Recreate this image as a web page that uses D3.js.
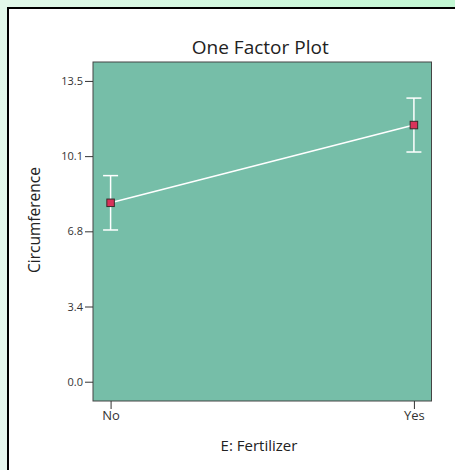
<!DOCTYPE html>
<html><head><meta charset="utf-8">
<script src="https://cdn.jsdelivr.net/npm/d3@7"></script>
<style>html,body{margin:0;padding:0;overflow:hidden;}svg{display:block;}</style>
</head><body>
<script>
const categories = ["No", "Yes"];
const means = [8.03, 11.52];
const upper = [9.25, 12.73];
const lower = [6.81, 10.31];
const yTicks = [0, 3.375, 6.75, 10.125, 13.5];
const yTickLabels = ["0.0", "3.4", "6.8", "10.1", "13.5"];

const FONT = "'Open Sans', 'Noto Sans', sans-serif";
const W = 455, H = 470;
const svg = d3.select("body").append("svg").attr("width", W).attr("height", H);
const defs = svg.append("defs");
const g = defs.append("linearGradient").attr("id","bg").attr("x1","0").attr("y1","1").attr("x2","1").attr("y2","0");
g.append("stop").attr("offset","0").attr("stop-color","#e6f7ee");
g.append("stop").attr("offset","0.5").attr("stop-color","#e2f8ea");
g.append("stop").attr("offset","1").attr("stop-color","#c2f7d3");
svg.append("rect").attr("width",W).attr("height",H).attr("fill","url(#bg)");
svg.append("rect").attr("x",8).attr("y",8).attr("width",W).attr("height",H).attr("fill","#fff").attr("stroke","#000").attr("stroke-width",2);

const L = 93, R = 431.5, T = 62, B = 401;
const y = d3.scaleLinear().domain([-0.866, 14.35]).range([B, T]);
const x = d3.scalePoint().domain(categories).range([L, R]).padding(0.058);

svg.append("rect").attr("x",L).attr("y",T).attr("width",R-L).attr("height",B-T)
  .attr("fill","#76bea8").attr("stroke","#444").attr("stroke-width",1);

const yAxis = d3.axisLeft(y).tickValues(yTicks).tickFormat((d,i)=>yTickLabels[i]).tickSize(8).tickPadding(2);
const ya = svg.append("g").attr("transform",`translate(${L},0)`).call(yAxis);
ya.select(".domain").remove();
ya.selectAll("line").attr("stroke","#333");
ya.selectAll("text").attr("font-family",FONT).attr("font-size",11).attr("fill","#333");

const xAxis = d3.axisBottom(x).tickSize(8).tickPadding(2);
const xa = svg.append("g").attr("transform",`translate(0,${B})`).call(xAxis);
xa.select(".domain").remove();
xa.selectAll("line").attr("stroke","#333");
xa.selectAll("text").attr("font-family",FONT).attr("font-size",13).attr("fill","#333");

const line = d3.line().x((d,i)=>x(categories[i])).y(d=>y(d));
svg.append("path").attr("d", line(means)).attr("fill","none").attr("stroke","#fff").attr("stroke-width",1.5);

categories.forEach((c,i)=>{
  const cx = x(c);
  svg.append("line").attr("x1",cx).attr("x2",cx).attr("y1",y(lower[i])).attr("y2",y(upper[i])).attr("stroke","#fff").attr("stroke-width",1.5);
  [lower[i], upper[i]].forEach(v=>{
    svg.append("line").attr("x1",cx-7.5).attr("x2",cx+7.5).attr("y1",y(v)).attr("y2",y(v)).attr("stroke","#fff").attr("stroke-width",1.5);
  });
  svg.append("rect").attr("x",cx-3.75).attr("y",y(means[i])-3.75).attr("width",7.5).attr("height",7.5)
    .attr("fill","#d9325a").attr("stroke","#3a2a2a").attr("stroke-width",1);
});

svg.append("text").attr("x",(L+R)/2 - 2).attr("y",54).attr("text-anchor","middle")
  .attr("font-family",FONT).attr("font-size",19).attr("fill","#222").text("One Factor Plot");
svg.append("text").attr("x",259).attr("y",451).attr("text-anchor","middle")
  .attr("font-family",FONT).attr("font-size",15).attr("fill","#222").text("E: Fertilizer");
svg.append("text").attr("transform","translate(40,220) rotate(-90)").attr("text-anchor","middle")
  .attr("font-family",FONT).attr("font-size",15.5).attr("fill","#222").text("Circumference");
</script>
</body></html>
